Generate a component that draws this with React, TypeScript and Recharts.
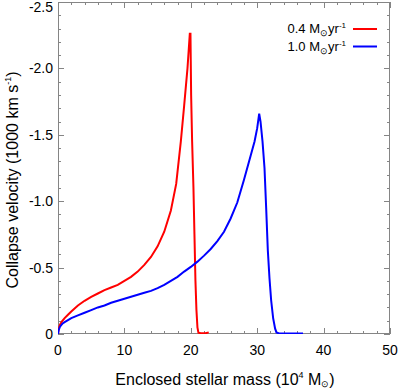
import React from 'react';
import { LineChart, Line, XAxis, YAxis, Customized } from 'recharts';

const redMass = [0, 0.1, 0.3, 0.6, 1, 1.5, 2, 3, 4, 5, 6, 7, 8, 9, 10, 11, 12, 13, 14, 15, 16, 17, 17.8, 18.5, 19, 19.5, 19.85, 19.95, 20.05, 20.2, 20.4, 20.55, 20.7, 20.85, 21.0, 21.15, 21.5, 22.2, 22.7];
const redVel = [0, -0.04, -0.07, -0.095, -0.12, -0.145, -0.17, -0.215, -0.25, -0.28, -0.305, -0.33, -0.35, -0.37, -0.4, -0.43, -0.47, -0.52, -0.58, -0.66, -0.77, -0.93, -1.13, -1.45, -1.72, -2.0, -2.26, -2.26, -1.8, -1.45, -1.1, -0.75, -0.4, -0.18, -0.05, -0.01, -0.005, -0.005, -0.012];

const blueMass = [0, 0.1, 0.3, 0.7, 1, 2, 3, 4, 5, 6, 7, 8, 9, 10, 11, 12, 13, 14, 15, 16, 17, 18, 19, 20, 21, 22, 23, 24, 25, 26, 27, 28, 29, 29.6, 30.0, 30.3, 30.5, 30.8, 31.1, 31.35, 31.6, 31.85, 32.1, 32.4, 32.7, 32.9, 33.3, 35, 36.9];
const blueVel = [0, -0.03, -0.055, -0.08, -0.09, -0.12, -0.14, -0.16, -0.18, -0.2, -0.215, -0.235, -0.25, -0.265, -0.28, -0.295, -0.31, -0.325, -0.345, -0.37, -0.4, -0.43, -0.47, -0.505, -0.545, -0.59, -0.64, -0.7, -0.77, -0.87, -0.99, -1.16, -1.34, -1.45, -1.55, -1.66, -1.6, -1.45, -1.25, -0.95, -0.63, -0.42, -0.254, -0.12, -0.04, -0.012, -0.004, -0.003, -0.003];

const xMajor = [0, 10, 20, 30, 40, 50];
const xMinor = [2, 4, 6, 8, 12, 14, 16, 18, 22, 24, 26, 28, 32, 34, 36, 38, 42, 44, 46, 48];
const yMajor = [-2.5, -2.0, -1.5, -1.0, -0.5, 0];
const yMajorLabels = ['-2.5', '-2.0', '-1.5', '-1.0', '-0.5', '0'];
const yMinor = [-2.4, -2.3, -2.2, -2.1, -1.9, -1.8, -1.7, -1.6, -1.4, -1.3, -1.2, -1.1, -0.9, -0.8, -0.7, -0.6, -0.4, -0.3, -0.2, -0.1];

const seriesNames = ['0.4', '1.0'];
const seriesColors = ['#ff0000', '#0000ff'];

const redData = redMass.map((m, i) => ({ x: m, v: redVel[i] }));
const blueData = blueMass.map((m, i) => ({ x: m, v: blueVel[i] }));

const W = 399;
const H = 389;
const MARGIN = { top: 2, right: 9, left: 0, bottom: 0 };
const Y_AXIS_W = 58;
const X_AXIS_H = 55;
const X_DOMAIN = [0, 50];
const Y_DOMAIN = [-2.5, 0];

const AX = '#858585';
const FONT = '"Liberation Sans", Arial, Helvetica, sans-serif';

const plotL = MARGIN.left + Y_AXIS_W;
const plotR = W - MARGIN.right;
const plotT = MARGIN.top;
const plotB = H - MARGIN.bottom - X_AXIS_H;
const px = (v: number) => plotL + ((v - X_DOMAIN[0]) / (X_DOMAIN[1] - X_DOMAIN[0])) * (plotR - plotL);
const py = (v: number) => plotT + ((v - Y_DOMAIN[0]) / (Y_DOMAIN[1] - Y_DOMAIN[0])) * (plotB - plotT);

const BottomTick = (props: any) => {
  const { x, y, payload } = props;
  return (
    <text x={x} y={y + 21} textAnchor="middle" fontSize={14} fill="#000" fontFamily={FONT}>
      {String(payload.value)}
    </text>
  );
};

const LeftTick = (props: any) => {
  const { x, y, payload } = props;
  const idx = yMajor.findIndex((m) => Math.abs(m - payload.value) < 1e-6);
  const dy = idx === 0 ? 10 : 5;
  return (
    <text x={x - 5} y={y + dy} textAnchor="end" fontSize={14} fill="#000" fontFamily={FONT}>
      {idx >= 0 ? yMajorLabels[idx] : ''}
    </text>
  );
};

const Frame = () => {
  const parts: string[] = [];
  xMajor.forEach((v) => {
    const x = Math.round(px(v)) + 0.5;
    parts.push(`M${x},${plotB}v-6M${x},${plotT}v6`);
  });
  xMinor.forEach((v) => {
    const x = Math.round(px(v)) + 0.5;
    parts.push(`M${x},${plotB}v-3M${x},${plotT}v3`);
  });
  yMajor.forEach((v) => {
    const y = Math.round(py(v)) + 0.5;
    parts.push(`M${plotL},${y}h6M${plotR},${y}h-6`);
  });
  yMinor.forEach((v) => {
    const y = Math.round(py(v)) + 0.5;
    parts.push(`M${plotL},${y}h3M${plotR},${y}h-3`);
  });
  return (
    <g>
      <rect x={plotL + 0.5} y={plotT + 0.5} width={plotR - plotL - 1} height={plotB - plotT - 1} fill="none" stroke={AX} strokeWidth={1} />
      <path d={parts.join('')} stroke={AX} strokeWidth={1} fill="none" />
    </g>
  );
};

const Labels = () => (
  <g fontFamily={FONT} fill="#000">
    <Frame />
    <text x={225} y={385} textAnchor="middle" fontSize={16}>
      Enclosed stellar mass (10
      <tspan fontSize={9} dy={-7}>4</tspan>
      <tspan dy={7}> M</tspan>
      <tspan fontSize={9} dy={2}>⊙</tspan>
      <tspan dy={-2}>)</tspan>
    </text>
    <text transform="translate(18,180) rotate(-90)" textAnchor="middle" fontSize={16}>
      Collapse velocity (1000 km s
      <tspan fontSize={9} dy={-7}>-1</tspan>
      <tspan dy={7}>)</tspan>
    </text>
    {seriesNames.map((n, i) => (
      <g key={n}>
        <text x={346} y={33 + i * 17.5} textAnchor="end" fontSize={13}>
          {n} M
          <tspan fontSize={9} dy={3}>⊙</tspan>
          <tspan dy={-3}>yr</tspan>
          <tspan fontSize={8} dy={-5}>-1</tspan>
        </text>
        <line x1={353} x2={377} y1={29 + i * 17.5} y2={29 + i * 17.5} stroke={seriesColors[i]} strokeWidth={2} />
      </g>
    ))}
  </g>
);

export default function App() {
  return (
    <div style={{ position: 'absolute', left: 0, top: 0, width: W, height: H, background: '#fff' }}>
      <LineChart width={W} height={H} margin={MARGIN}>
        <XAxis
          xAxisId="b"
          type="number"
          dataKey="x"
          domain={X_DOMAIN}
          ticks={xMajor}
          orientation="bottom"
          height={X_AXIS_H}
          axisLine={false}
          tickLine={false}
          tickSize={0}
          tickMargin={0}
          tick={BottomTick}
          interval={0}
          allowDataOverflow
        />
        <YAxis
          yAxisId="l"
          type="number"
          domain={Y_DOMAIN}
          reversed
          ticks={yMajor}
          orientation="left"
          width={Y_AXIS_W}
          axisLine={false}
          tickLine={false}
          tickSize={0}
          tickMargin={0}
          tick={LeftTick}
          interval={0}
          allowDataOverflow
        />
        <Line
          xAxisId="b"
          yAxisId="l"
          data={redData}
          dataKey="v"
          type="linear"
          stroke={seriesColors[0]}
          strokeWidth={2}
          dot={false}
          isAnimationActive={false}
        />
        <Line
          xAxisId="b"
          yAxisId="l"
          data={blueData}
          dataKey="v"
          type="linear"
          stroke={seriesColors[1]}
          strokeWidth={2}
          dot={false}
          isAnimationActive={false}
        />
        <Customized component={Labels} />
      </LineChart>
    </div>
  );
}
